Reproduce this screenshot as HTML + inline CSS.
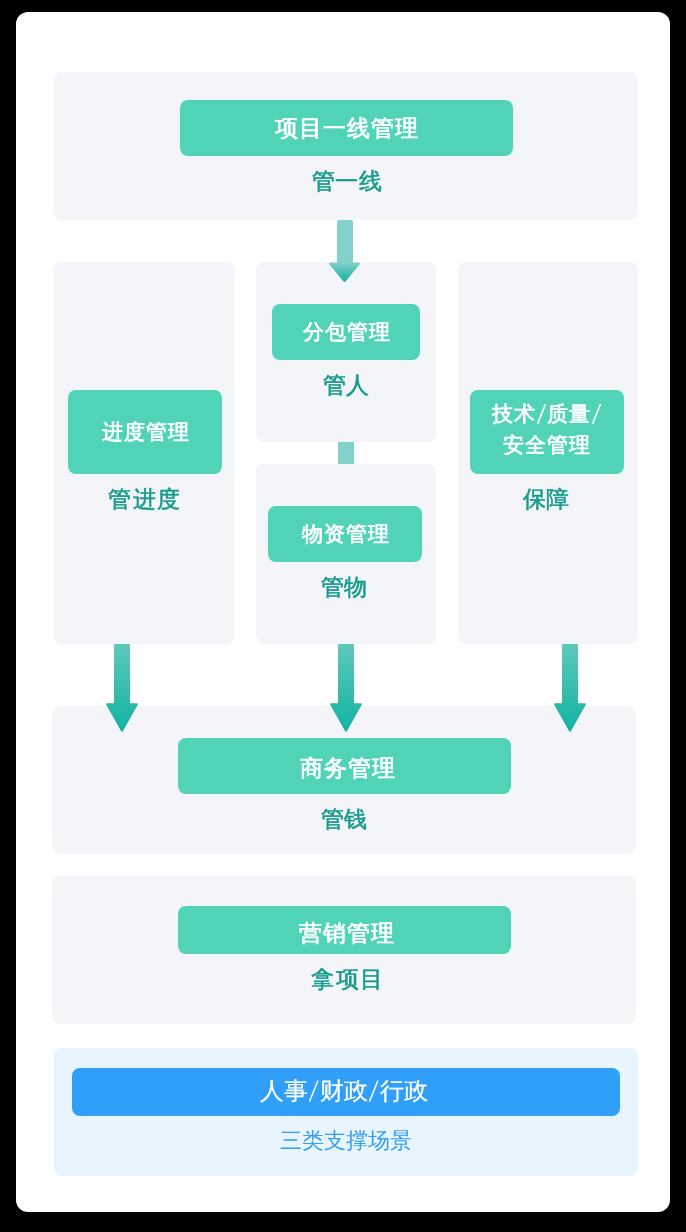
<!DOCTYPE html>
<html><head><meta charset="utf-8">
<style>
html,body{margin:0;padding:0;}
body{width:686px;height:1232px;background:#000;position:relative;overflow:hidden;font-family:"Liberation Sans",sans-serif;}
.card{position:absolute;left:16px;top:12px;width:654px;height:1200px;background:#fff;border-radius:12px;}
.p{position:absolute;background:#f4f5f8;border-radius:8px;}
.b{position:absolute;will-change:transform;background:#50d3b7;border-radius:8px;color:#fff;font-weight:400;-webkit-text-stroke:0.7px #fff;font-size:21px;letter-spacing:1px;text-indent:1px;display:flex;align-items:center;justify-content:center;text-align:center;line-height:30px;}
.l{position:absolute;will-change:transform;color:#169b8c;font-weight:400;-webkit-text-stroke:0.55px #169b8c;font-size:23px;text-align:center;line-height:30px;}
svg{position:absolute;overflow:visible;}
.t{position:absolute;will-change:transform;color:#fff;font-size:21px;letter-spacing:1px;line-height:28px;white-space:nowrap;-webkit-text-stroke:0.7px #fff;}
</style></head>
<body>
<div class="card"></div>

<!-- top panel -->
<div class="p" style="left:54px;top:72px;width:584px;height:148px;"></div>
<div class="b" style="left:180px;top:100px;width:333px;height:56px;font-size:23px;"><span style="position:relative;left:-0.5px;top:0px">项目一线管理</span></div>
<div class="l" style="left:55px;top:166px;width:584px;letter-spacing:0.5px;">管一线</div>

<!-- column panels -->
<div class="p" style="left:54px;top:262px;width:180px;height:382px;"></div>
<div class="p" style="left:256px;top:262px;width:180px;height:180px;"></div>
<div class="p" style="left:256px;top:464px;width:180px;height:180px;"></div>
<div class="p" style="left:458px;top:262px;width:180px;height:382px;"></div>

<div class="b" style="left:68px;top:390px;width:154px;height:84px;">进度管理</div>
<div class="l" style="left:55px;top:484px;width:180px;letter-spacing:1.5px;">管进度</div>

<div class="b" style="left:272px;top:304px;width:148px;height:56px;">分包管理</div>
<div class="l" style="left:256px;top:370px;width:180px;">管人</div>

<div style="position:absolute;left:338px;top:442px;width:16px;height:22px;background:#83d2c9;"></div>

<div class="b" style="left:268px;top:506px;width:154px;height:56px;">物资管理</div>
<div class="l" style="left:254px;top:572px;width:180px;">管物</div>

<div class="b" style="left:470px;top:390px;width:154px;height:84px;"></div>
<div class="t" style="left:492px;top:400px;">技术</div>
<div class="t" style="left:547px;top:400px;">质量</div>
<div class="t" style="left:503px;top:431px;">安全管理</div>
<svg width="686" height="1232" style="left:0;top:0;"><line x1="537.5" y1="424" x2="545.5" y2="404" stroke="#fff" stroke-width="1.7"/><line x1="592.5" y1="424" x2="600.5" y2="404" stroke="#fff" stroke-width="1.7"/></svg>
<div class="l" style="left:456px;top:484px;width:180px;">保障</div>

<!-- bottom panels -->
<div class="p" style="left:52px;top:706px;width:584px;height:148px;"></div>
<div class="b" style="left:178px;top:738px;width:333px;height:56px;font-size:23px;"><span style="position:relative;left:2.5px;top:2px">商务管理</span></div>
<div class="l" style="left:52px;top:804px;width:584px;">管钱</div>

<div class="p" style="left:52px;top:876px;width:584px;height:148px;"></div>
<div class="b" style="left:178px;top:906px;width:333px;height:48px;font-size:23px;"><span style="position:relative;left:1.5px;top:2.5px">营销管理</span></div>
<div class="l" style="left:56px;top:964px;width:584px;letter-spacing:1.5px;">拿项目</div>

<div class="p" style="left:54px;top:1048px;width:584px;height:128px;background:#e9f5fe;"></div>
<div class="b" style="left:72px;top:1068px;width:548px;height:48px;background:#2f9ffa;"></div>
<div class="t" style="left:260px;top:1077px;font-size:24px;letter-spacing:0;-webkit-text-stroke:0.2px #fff;">人事</div>
<div class="t" style="left:320px;top:1077px;font-size:24px;letter-spacing:0;-webkit-text-stroke:0.2px #fff;">财政</div>
<div class="t" style="left:380px;top:1077px;font-size:24px;letter-spacing:0;-webkit-text-stroke:0.2px #fff;">行政</div>
<svg width="686" height="1232" style="left:0;top:0;"><line x1="309.5" y1="1101.5" x2="318" y2="1080.5" stroke="#fff" stroke-width="1.5"/><line x1="369.5" y1="1101.5" x2="378" y2="1080.5" stroke="#fff" stroke-width="1.5"/></svg>
<div class="l" style="left:54px;top:1126px;width:584px;color:#339ff6;-webkit-text-stroke:0;font-size:22px;">三类支撑场景</div>

<!-- arrows -->
<svg width="686" height="1232" style="left:0;top:0;">
<defs>
<linearGradient id="g1" x1="0" y1="262" x2="0" y2="282" gradientUnits="userSpaceOnUse">
<stop offset="0" stop-color="#83d2c9"/><stop offset="1" stop-color="#16b0a0"/>
</linearGradient>
<linearGradient id="g2" x1="0" y1="644" x2="0" y2="732" gradientUnits="userSpaceOnUse">
<stop offset="0" stop-color="#5ec9bb"/><stop offset="1" stop-color="#12b2a2"/>
</linearGradient>
</defs>
<path d="M337 222 Q337 220 339 220 L351 220 Q353 220 353 222 L353 264 L337 264 Z" fill="#83d2c9"/>
<path d="M330 263.5 L359 263.5 L344.5 281 Z" fill="url(#g1)" stroke="url(#g1)" stroke-width="2" stroke-linejoin="round"/>

<rect x="114" y="644" width="16" height="61" fill="url(#g2)"/><path d="M106.8 704 L137.2 704 L122 731 Z" fill="url(#g2)" stroke="url(#g2)" stroke-width="1.6" stroke-linejoin="round"/>
<rect x="338" y="644" width="16" height="61" fill="url(#g2)"/><path d="M330.8 704 L361.2 704 L346 731 Z" fill="url(#g2)" stroke="url(#g2)" stroke-width="1.6" stroke-linejoin="round"/>
<rect x="562" y="644" width="16" height="61" fill="url(#g2)"/><path d="M554.8 704 L585.2 704 L570 731 Z" fill="url(#g2)" stroke="url(#g2)" stroke-width="1.6" stroke-linejoin="round"/>
</svg>
</body></html>
